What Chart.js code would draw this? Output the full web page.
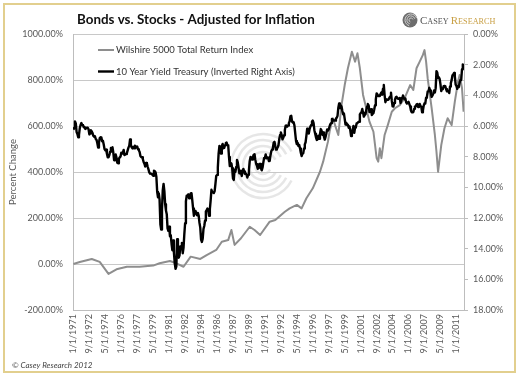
<!DOCTYPE html>
<html><head><meta charset="utf-8">
<script src="https://cdn.jsdelivr.net/npm/chart.js@4.4.1/dist/chart.umd.min.js"></script>
<style>html,body{margin:0;padding:0;background:#fff;}canvas{display:block;}</style>
</head><body>
<canvas id="c" width="520" height="379"></canvas>
<script>
// ---- data ----
const START_YEAR = 1971;
const tickLabels = ['1/1/1971','9/1/1972','5/1/1974','1/1/1976','9/1/1977','5/1/1979','1/1/1981','9/1/1982','5/1/1984','1/1/1986','9/1/1987','5/1/1989','1/1/1991','9/1/1992','5/1/1994','1/1/1996','9/1/1997','5/1/1999','1/1/2001','9/1/2002','5/1/2004','1/1/2006','9/1/2007','5/1/2009','1/1/2011'];
const leftTicks = [-200, 0, 200, 400, 600, 800, 1000];
const rightTicks = [0, 2, 4, 6, 8, 10, 12, 14, 16, 18];
// 10 Year Treasury yield, monthly, Jan 1971 - Oct 2011 (%)
const treasuryYields = [
6.24,6.11,5.70,5.83,6.39,6.52,6.73,6.58,6.14,5.93,5.81,5.93,
5.95,6.08,6.07,6.19,6.13,6.11,6.11,6.21,6.55,6.48,6.28,6.36,
6.46,6.64,6.71,6.67,6.85,6.90,7.13,7.40,7.09,6.79,6.73,6.74,
6.99,6.96,7.21,7.51,7.58,7.54,7.81,8.04,8.04,7.90,7.68,7.43,
7.50,7.39,7.73,8.23,8.06,7.86,8.06,8.40,8.43,8.14,8.05,8.00,
7.74,7.79,7.73,7.56,7.90,7.86,7.83,7.77,7.59,7.41,7.29,6.87,
7.21,7.39,7.46,7.37,7.46,7.28,7.33,7.40,7.34,7.52,7.58,7.69,
7.96,8.03,8.04,8.15,8.35,8.46,8.64,8.41,8.42,8.64,8.81,9.01,
9.10,9.10,9.12,9.18,9.25,8.91,8.95,9.03,9.33,10.30,10.65,10.39,
10.80,12.41,12.75,11.47,10.18,9.78,10.25,11.10,11.51,11.75,12.68,12.84,
12.57,13.19,13.12,13.68,14.10,13.47,14.28,14.94,15.32,15.15,13.39,13.72,
14.59,14.43,13.86,13.87,13.62,14.30,13.95,13.06,12.34,10.91,10.55,10.54,
10.46,10.72,10.51,10.40,10.38,10.85,11.38,11.85,11.65,11.54,11.69,11.83,
11.67,11.84,12.32,12.63,13.41,13.56,13.36,12.72,12.52,12.16,11.57,11.50,
11.38,11.51,11.86,11.43,10.85,10.16,10.31,10.33,10.37,10.24,9.78,9.26,
9.19,8.70,7.78,7.30,7.71,7.80,7.30,7.17,7.45,7.43,7.25,7.11,
7.08,7.25,7.25,8.02,8.61,8.40,8.45,8.76,9.42,9.52,8.86,8.99,
8.67,8.21,8.37,8.72,9.09,8.92,9.06,9.26,8.98,8.80,8.96,9.11,
9.09,9.17,9.36,9.18,8.86,8.28,8.02,8.11,8.19,8.01,7.87,7.84,
8.21,8.47,8.59,8.79,8.76,8.48,8.47,8.75,8.89,8.72,8.39,8.08,
8.09,7.85,8.11,8.04,8.07,8.28,8.27,7.90,7.65,7.53,7.42,7.09,
7.03,7.34,7.54,7.48,7.39,7.26,6.84,6.59,6.42,6.59,6.87,6.77,
6.60,6.26,5.98,5.97,6.04,5.96,5.81,5.68,5.36,5.33,5.72,5.77,
5.75,5.97,6.48,6.97,7.18,7.10,7.30,7.24,7.46,7.74,7.96,7.81,
7.78,7.47,7.20,7.06,6.63,6.17,6.28,6.49,6.20,6.04,5.93,5.71,
5.65,5.81,6.27,6.51,6.74,6.91,6.87,6.64,6.83,6.53,6.20,6.30,
6.58,6.42,6.69,6.89,6.71,6.49,6.22,6.30,6.21,6.03,5.88,5.81,
5.54,5.57,5.65,5.64,5.65,5.50,5.46,5.34,4.81,4.53,4.83,4.65,
4.72,5.00,5.23,5.18,5.54,5.90,5.79,5.94,5.92,6.11,6.03,6.28,
6.66,6.52,6.26,5.99,6.44,6.10,6.05,5.83,5.80,5.74,5.72,5.24,
5.16,5.10,4.89,5.14,5.39,5.28,5.24,4.97,4.73,4.57,4.65,5.09,
5.04,4.91,5.28,5.21,5.16,4.93,4.65,4.26,3.87,3.94,4.05,4.03,
4.05,3.90,3.81,3.96,3.57,3.33,3.98,4.45,4.27,4.29,4.30,4.27,
4.15,4.08,3.83,4.35,4.72,4.73,4.50,4.28,4.13,4.10,4.19,4.23,
4.22,4.17,4.50,4.34,4.14,4.00,4.18,4.26,4.20,4.46,4.54,4.47,
4.42,4.57,4.72,4.99,5.11,5.11,5.09,4.88,4.72,4.73,4.60,4.56,
4.76,4.72,4.56,4.69,4.75,5.10,5.00,4.67,4.52,4.53,4.15,4.10,
3.74,3.74,3.51,3.68,3.88,4.10,4.01,3.89,3.69,3.81,3.53,2.42,
2.52,2.87,2.82,2.93,3.29,3.72,3.56,3.59,3.40,3.39,3.40,3.59,
3.73,3.69,3.73,3.85,3.42,3.20,3.01,2.70,2.65,2.54,2.76,3.29,
3.39,3.58,3.41,3.46,3.17,3.00,3.00,2.30,1.98,2.15
];
// Wilshire 5000 total return (inflation adjusted), % change; month index since Jan 1971
const wilshireMonths = [0,8,23,33,44,54,67,83,100,108,121,129,138,147,159,167,179,186,194,198,202,210,221,227,234,246,253,265,271,280,286,292,300,309,313,319,321,325,332,336,340,344,349,353,356,359,363,367,371,376,380,382,384,386,390,394,399,403,409,415,422,426,430,434,438,440,442,444,449,453,455,457,461,465,469,474,478,482,484,487,489];
const wilshireValues = [0,9,22,9,-43,-23,-12,-12,-7,3,13,3,-12,32,22,39,61,97,104,148,83,112,162,148,126,184,191,227,242,257,242,286,329,401,445,532,575,634,561,691,778,851,923,880,916,851,735,677,619,575,460,445,503,460,561,604,662,677,691,720,778,757,851,880,909,930,880,807,677,561,488,401,517,590,634,604,706,793,822,764,662];

const seriesLabels = ['Wilshire 5000 Total Return Index', '10 Year Yield Treasury (Inverted Right Axis)'];
const tickMonths = tickLabels.map(s => { const p = s.split('/'); return (parseInt(p[2]) - START_YEAR) * 12 + parseInt(p[0]) - 1; });

const FONT = 'Lato';
const TXT = '#595959';

const decor = {
  id: 'decor',
  beforeDraw(chart) {
    const ctx = chart.ctx;
    ctx.save();
    ctx.fillStyle = '#fff';
    ctx.fillRect(0, 0, chart.width, chart.height);
    ctx.strokeStyle = '#e2cf8e';
    ctx.lineWidth = 2;
    ctx.strokeRect(4, 4, 511, 368);
    ctx.restore();
  },
  beforeDatasetsDraw(chart) {
    const ctx = chart.ctx;
    ctx.save();
    ctx.strokeStyle = 'rgba(200,200,200,0.45)';
    ctx.lineWidth = 2.5;
    const cx = 263, cy = 166;
    [8, 14, 20, 26, 32].forEach((r, i) => {
      ctx.beginPath();
      ctx.arc(cx, cy, r, Math.PI * 0.15, Math.PI * 1.85);
      ctx.stroke();
    });
    ctx.restore();
  },
  afterDraw(chart) {
    const ctx = chart.ctx;
    ctx.save();
    // title
    ctx.fillStyle = '#111';
    ctx.font = 'bold 13.4px ' + FONT;
    ctx.textBaseline = 'middle';
    ctx.textAlign = 'left';
    ctx.fillText('Bonds vs. Stocks - Adjusted for Inflation', 77, 20);
    // legend
    const ys = [50, 71.5];
    chart.data.datasets.forEach((ds, i) => {
      ctx.strokeStyle = ds.borderColor;
      ctx.lineWidth = ds.borderWidth;
      ctx.beginPath();
      ctx.moveTo(98, ys[i]); ctx.lineTo(114, ys[i]);
      ctx.stroke();
      ctx.fillStyle = '#333';
      ctx.font = '9.5px ' + FONT;
      ctx.textBaseline = 'middle';
      ctx.fillText(ds.label, 116, ys[i]);
    });
    // copyright
    ctx.fillStyle = '#444';
    ctx.font = 'italic 8px ' + FONT;
    ctx.fillText('\u00A9 Casey Research 2012', 12, 365);
    // logo icon
    const lx = 410, ly = 20;
    ctx.fillStyle = '#6d6d6d';
    ctx.beginPath(); ctx.arc(lx, ly, 7.5, 0, Math.PI * 2); ctx.fill();
    ctx.strokeStyle = '#cfcfcf'; ctx.lineWidth = 1;
    [2, 4, 6].forEach(r => { ctx.beginPath(); ctx.arc(lx + 1, ly, r, Math.PI * 0.6, Math.PI * 1.9); ctx.stroke(); });
    // logo text
    let x = 420; const by = 24;
    ctx.textBaseline = 'alphabetic';
    const parts = [['C', 11, '#555'], ['ASEY ', 8.2, '#555'], ['R', 11, '#c9a046'], ['ESEARCH', 8.2, '#c9a046']];
    parts.forEach(p => {
      ctx.font = p[1] + 'px "Liberation Serif"';
      ctx.fillStyle = p[2];
      ctx.fillText(p[0], x, by);
      x += ctx.measureText(p[0]).width;
    });
    ctx.restore();
  }
};

new Chart(document.getElementById('c'), {
  type: 'line',
  data: {
    datasets: [
      {
        label: seriesLabels[0],
        data: wilshireMonths.map((m, i) => ({ x: m, y: wilshireValues[i] })),
        yAxisID: 'y', borderColor: '#8e8e8e', borderWidth: 2, pointRadius: 0,
        borderJoinStyle: 'round', order: 1, tension: 0
      },
      {
        label: seriesLabels[1],
        data: treasuryYields.map((v, i) => ({ x: i, y: v })),
        yAxisID: 'y2', borderColor: '#000000', borderWidth: 2.4, pointRadius: 0,
        borderJoinStyle: 'round', order: 0, tension: 0
      }
    ]
  },
  options: {
    responsive: false, animation: false, devicePixelRatio: 1,
    layout: { padding: { top: 34, left: 0, right: 0, bottom: 0 } },
    plugins: { legend: { display: false }, tooltip: { enabled: false }, title: { display: false } },
    scales: {
      x: {
        type: 'linear', min: -0.5, max: 489.5,
        afterBuildTicks: s => { s.ticks = tickMonths.map(v => ({ value: v })); },
        afterFit: s => { s.height = 69; },
        grid: { display: false, drawTicks: false },
        border: { display: true, color: '#bdbdbd' },
        ticks: { autoSkip: false, maxRotation: 90, minRotation: 90, padding: 4, color: TXT,
          font: { family: FONT, size: 9 }, callback: (v, i) => tickLabels[i] }
      },
      y: {
        position: 'left', min: leftTicks[0], max: leftTicks[leftTicks.length - 1],
        afterBuildTicks: s => { s.ticks = leftTicks.map(v => ({ value: v })); },
        afterFit: s => { s.width = 73; },
        grid: { color: '#c8c8c8', drawTicks: false, lineWidth: 1 },
        border: { color: '#bdbdbd' },
        ticks: { padding: 10, color: TXT, font: { family: FONT, size: 9 }, callback: v => v.toFixed(2) + '%' },
        title: { display: true, text: 'Percent Change', color: TXT, font: { family: FONT, size: 9.5 }, padding: { top: 7, bottom: 0 } }
      },
      y2: {
        position: 'right', reverse: true, min: rightTicks[0], max: rightTicks[rightTicks.length - 1],
        afterBuildTicks: s => { s.ticks = rightTicks.map(v => ({ value: v })); },
        afterFit: s => { s.width = 56; },
        grid: { drawOnChartArea: false, drawTicks: true, tickLength: 4, color: '#bdbdbd' },
        border: { color: '#bdbdbd' },
        ticks: { padding: 5, color: TXT, font: { family: FONT, size: 9 }, callback: v => v.toFixed(2) + '%' }
      }
    }
  },
  plugins: [decor]
});
</script>
</body></html>
